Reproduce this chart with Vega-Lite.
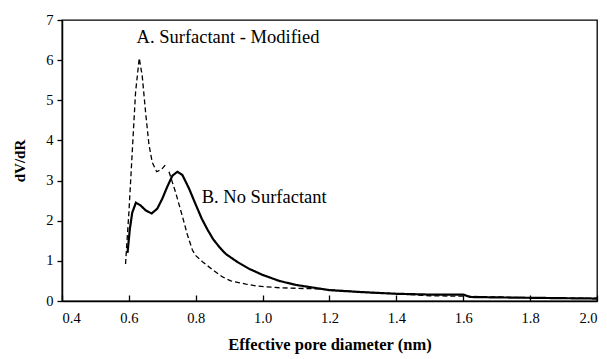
{
  "$schema": "https://vega.github.io/schema/vega-lite/v6.json",
  "autosize": "none",
  "width": 535,
  "height": 281,
  "padding": {"left": 62, "top": 20, "right": 10, "bottom": 58},
  "background": "white",
  "config": {
    "view": {"stroke": "black", "strokeWidth": 1.3},
    "font": "Liberation Serif",
    "axis": {"grid": false, "domainColor": "black", "tickColor": "black", "labelColor": "black", "titleColor": "black", "labelFont": "Liberation Serif", "titleFont": "Liberation Serif", "domainWidth": 1.5, "tickWidth": 1.3, "labelOverlap": false}
  },
  "datasets": {
    "curves": [
      {"series": "A", "seg": "A1", "x": 0.59, "y": 0.92},
      {"series": "A", "seg": "A1", "x": 0.60, "y": 2.2},
      {"series": "A", "seg": "A1", "x": 0.61, "y": 3.7},
      {"series": "A", "seg": "A1", "x": 0.62, "y": 5.2},
      {"series": "A", "seg": "A1", "x": 0.631, "y": 6.05},
      {"series": "A", "seg": "A1", "x": 0.64, "y": 5.6},
      {"series": "A", "seg": "A1", "x": 0.65, "y": 4.7},
      {"series": "A", "seg": "A1", "x": 0.66, "y": 3.9},
      {"series": "A", "seg": "A1", "x": 0.67, "y": 3.45},
      {"series": "A", "seg": "A1", "x": 0.683, "y": 3.22},
      {"series": "A", "seg": "A1", "x": 0.698, "y": 3.28},
      {"series": "A", "seg": "A1", "x": 0.711, "y": 3.41},
      {"series": "A", "seg": "A2", "x": 0.72, "y": 3.22},
      {"series": "A", "seg": "A2", "x": 0.74, "y": 2.7},
      {"series": "A", "seg": "A2", "x": 0.763, "y": 2.02},
      {"series": "A", "seg": "A2", "x": 0.775, "y": 1.65},
      {"series": "A", "seg": "A2", "x": 0.79, "y": 1.27},
      {"series": "A", "seg": "A2", "x": 0.80, "y": 1.13},
      {"series": "A", "seg": "A2", "x": 0.82, "y": 0.98},
      {"series": "A", "seg": "A2", "x": 0.85, "y": 0.78},
      {"series": "A", "seg": "A2", "x": 0.88, "y": 0.6},
      {"series": "A", "seg": "A2", "x": 0.905, "y": 0.5},
      {"series": "A", "seg": "A2", "x": 0.95, "y": 0.42},
      {"series": "A", "seg": "A2", "x": 0.985, "y": 0.37},
      {"series": "A", "seg": "A2", "x": 1.05, "y": 0.33},
      {"series": "A", "seg": "A2", "x": 1.17, "y": 0.3},
      {"series": "A", "seg": "A2", "x": 1.25, "y": 0.25},
      {"series": "A", "seg": "A2", "x": 1.3, "y": 0.22},
      {"series": "A", "seg": "A2", "x": 1.4, "y": 0.18},
      {"series": "A", "seg": "A2", "x": 1.5, "y": 0.13},
      {"series": "A", "seg": "A2", "x": 1.6, "y": 0.12},
      {"series": "A", "seg": "A2", "x": 1.7, "y": 0.1},
      {"series": "A", "seg": "A2", "x": 1.8, "y": 0.08},
      {"series": "A", "seg": "A2", "x": 1.9, "y": 0.07},
      {"series": "A", "seg": "A2", "x": 2.0, "y": 0.07},
      {"series": "B", "seg": "B", "x": 0.596, "y": 1.2},
      {"series": "B", "seg": "B", "x": 0.603, "y": 1.8},
      {"series": "B", "seg": "B", "x": 0.61, "y": 2.2},
      {"series": "B", "seg": "B", "x": 0.621, "y": 2.45},
      {"series": "B", "seg": "B", "x": 0.635, "y": 2.38},
      {"series": "B", "seg": "B", "x": 0.65, "y": 2.26},
      {"series": "B", "seg": "B", "x": 0.668, "y": 2.18},
      {"series": "B", "seg": "B", "x": 0.685, "y": 2.3},
      {"series": "B", "seg": "B", "x": 0.70, "y": 2.55},
      {"series": "B", "seg": "B", "x": 0.715, "y": 2.85},
      {"series": "B", "seg": "B", "x": 0.73, "y": 3.12},
      {"series": "B", "seg": "B", "x": 0.745, "y": 3.22},
      {"series": "B", "seg": "B", "x": 0.76, "y": 3.14},
      {"series": "B", "seg": "B", "x": 0.78, "y": 2.8},
      {"series": "B", "seg": "B", "x": 0.80, "y": 2.4},
      {"series": "B", "seg": "B", "x": 0.818, "y": 2.05},
      {"series": "B", "seg": "B", "x": 0.835, "y": 1.78},
      {"series": "B", "seg": "B", "x": 0.852, "y": 1.54},
      {"series": "B", "seg": "B", "x": 0.87, "y": 1.35},
      {"series": "B", "seg": "B", "x": 0.89, "y": 1.17},
      {"series": "B", "seg": "B", "x": 0.925, "y": 0.97},
      {"series": "B", "seg": "B", "x": 0.96, "y": 0.8},
      {"series": "B", "seg": "B", "x": 1.0, "y": 0.65},
      {"series": "B", "seg": "B", "x": 1.05, "y": 0.5},
      {"series": "B", "seg": "B", "x": 1.1, "y": 0.4},
      {"series": "B", "seg": "B", "x": 1.2, "y": 0.27},
      {"series": "B", "seg": "B", "x": 1.3, "y": 0.22},
      {"series": "B", "seg": "B", "x": 1.4, "y": 0.18},
      {"series": "B", "seg": "B", "x": 1.5, "y": 0.16},
      {"series": "B", "seg": "B", "x": 1.6, "y": 0.16},
      {"series": "B", "seg": "B", "x": 1.62, "y": 0.1},
      {"series": "B", "seg": "B", "x": 1.7, "y": 0.09},
      {"series": "B", "seg": "B", "x": 1.8, "y": 0.08},
      {"series": "B", "seg": "B", "x": 1.9, "y": 0.07},
      {"series": "B", "seg": "B", "x": 2.0, "y": 0.06}
    ],
    "labels": [
      {"x": 0.623, "y": 6.57, "text": "A. Surfactant - Modified"},
      {"x": 0.818, "y": 2.6, "text": "B. No Surfactant"}
    ]
  },
  "layer": [
    {
      "data": {"name": "curves"},
      "mark": {"type": "line", "color": "black", "clip": true},
      "encoding": {
        "x": {
          "field": "x", "type": "quantitative",
          "scale": {"domain": [0.4, 2.0], "nice": false, "zero": false},
          "axis": {
            "title": "Effective pore diameter (nm)",
            "titleFontSize": 16.5, "titleFontWeight": "bold", "titlePadding": 12,
            "values": [0.4,0.5,0.6,0.7,0.8,0.9,1.0,1.1,1.2,1.3,1.4,1.5,1.6,1.7,1.8,1.9,2.0],
            "labelExpr": "(round(datum.value*10) % 2 == 0) ? format(datum.value, '.1f') : ''",
            "labelFontSize": 14.5, "labelPadding": 16,
            "tickSize": {"condition": {"test": "round(datum.value*10) % 2 == 0", "value": -6}, "value": -4}
          }
        },
        "y": {
          "field": "y", "type": "quantitative",
          "scale": {"domain": [0, 7], "nice": false},
          "axis": {
            "title": "dV/dR",
            "titleFontSize": 15, "titleFontWeight": "bold", "titlePadding": 18,
            "values": [0,0.5,1,1.5,2,2.5,3,3.5,4,4.5,5,5.5,6,6.5,7],
            "labelExpr": "(datum.value % 1 == 0) ? format(datum.value, 'd') : ''",
            "labelFontSize": 14.5, "labelPadding": 4,
            "tickSize": {"condition": {"test": "datum.value % 1 == 0", "value": 5}, "value": 3}
          }
        },
        "detail": {"field": "seg", "type": "nominal"},
        "strokeDash": {
          "field": "series", "type": "nominal",
          "scale": {"domain": ["A", "B"], "range": [[5, 3], [1, 0]]},
          "legend": null
        },
        "strokeWidth": {
          "field": "series", "type": "nominal",
          "scale": {"domain": ["A", "B"], "range": [1.3, 2.2]},
          "legend": null
        }
      }
    },
    {
      "data": {"name": "labels"},
      "mark": {"type": "text", "align": "left", "baseline": "middle", "fontSize": 18.5, "font": "Liberation Serif", "color": "black"},
      "encoding": {
        "x": {"field": "x", "type": "quantitative"},
        "y": {"field": "y", "type": "quantitative"},
        "text": {"field": "text", "type": "nominal"}
      }
    }
  ]
}
